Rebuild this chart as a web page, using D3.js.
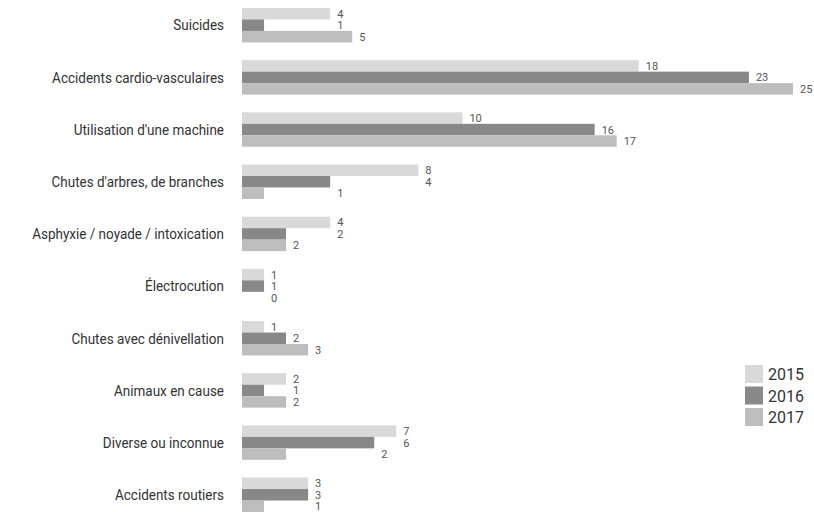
<!DOCTYPE html>
<html>
<head>
<meta charset="utf-8">
<script src="https://cdn.jsdelivr.net/npm/d3@7"></script>
<style>
  body { margin: 0; background: #fff; }
  text { font-family: "Roboto", sans-serif; }
</style>
</head>
<body>
<div id="chart"></div>
<script>
// categories and values per year
var categories = [
    "Suicides",
    "Accidents cardio-vasculaires",
    "Utilisation d'une machine",
    "Chutes d'arbres, de branches",
    "Asphyxie / noyade / intoxication",
    "Électrocution",
    "Chutes avec dénivellation",
    "Animaux en cause",
    "Diverse ou inconnue",
    "Accidents routiers"
];
var years = ["2015", "2016", "2017"];
var v2015 = [4, 18, 10, 8, 4, 1, 1, 2, 7, 3];
var v2016 = [1, 23, 16, 4, 2, 1, 2, 1, 6, 3];
var v2017 = [5, 25, 17, 1, 2, 0, 3, 2, 2, 1];
var series = [v2015, v2016, v2017];
var colors = ["#d9d9d9", "#888888", "#bdbdbd"];

var width = 814, height = 512;

var svg = d3.select("#chart")
    .append("svg")
    .attr("width", width)
    .attr("height", height);

var y = d3.scaleBand()
    .domain(categories)
    .range([8, 512])
    .paddingInner(0.34);

var ySub = d3.scaleBand()
    .domain(years)
    .range([0, y.bandwidth()]);

var x = d3.scaleLinear()
    .domain([0, 25])
    .range([242, 793]);

// category labels (squeezed a bit to look like a condensed face)
svg.append("g")
    .attr("transform", "translate(224,0) scale(0.9,1)")
    .selectAll("text")
    .data(categories)
    .enter()
    .append("text")
    .attr("x", 0)
    .attr("y", function (d) { return y(d) + y.bandwidth() / 2; })
    .attr("dy", "0.35em")
    .attr("text-anchor", "end")
    .style("font-size", "15px")
    .style("fill", "#333")
    .text(function (d) { return d; });

// bars and value labels
categories.forEach(function (cat, i) {
    var g = svg.append("g")
        .attr("transform", "translate(0," + y(cat) + ")");
    years.forEach(function (yr, j) {
        var val = series[j][i];
        g.append("rect")
            .attr("x", x(0))
            .attr("y", ySub(yr))
            .attr("width", x(val) - x(0))
            .attr("height", ySub.bandwidth())
            .style("fill", colors[j]);
        // label sits after the longer of this bar and the one above it
        var end = x(val);
        if (j > 0) end = Math.max(end, x(series[j - 1][i]));
        g.append("text")
            .attr("x", end + 7)
            .attr("y", ySub(yr) + ySub.bandwidth() / 2)
            .attr("dy", "0.36em")
            .style("font-size", "11px")
            .style("fill", "#555")
            .text(val);
    });
});

// legend
var legend = svg.append("g")
    .attr("transform", "translate(745,365)");
years.forEach(function (yr, j) {
    legend.append("rect")
        .attr("x", 0)
        .attr("y", j * 21.5)
        .attr("width", 18)
        .attr("height", 18)
        .style("fill", colors[j]);
    legend.append("text")
        .attr("x", 23)
        .attr("y", j * 21.5 + 9)
        .attr("dy", "0.38em")
        .style("font-size", "16px")
        .style("fill", "#333")
        .text(yr);
});
</script>
</body>
</html>
